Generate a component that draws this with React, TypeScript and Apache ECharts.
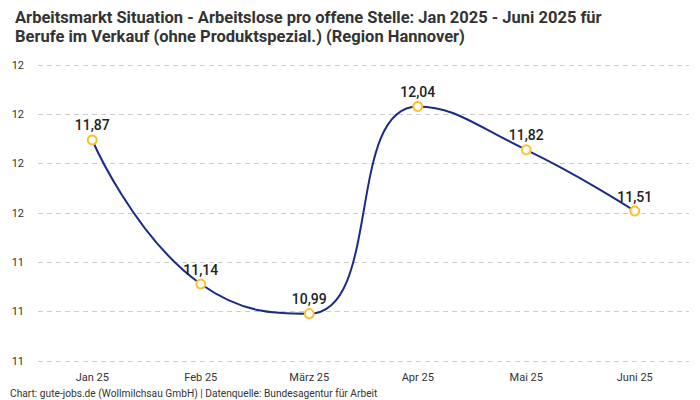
import React, { useEffect, useRef } from "react";
import * as echarts from "echarts";

const categories = ["Jan 25", "Feb 25", "März 25", "Apr 25", "Mai 25", "Juni 25"];
const values = [11.87, 11.14, 10.99, 12.04, 11.82, 11.51];
const titleLines = [
  "Arbeitsmarkt Situation - Arbeitslose pro offene Stelle: Jan 2025 - Juni 2025 für",
  "Berufe im Verkauf (ohne Produktspezial.) (Region Hannover)",
];
const footer = "Chart: gute-jobs.de (Wollmilchsau GmbH) | Datenquelle: Bundesagentur für Arbeit";

export default function App() {
  const ref = useRef<HTMLDivElement>(null);
  useEffect(() => {
    if (!ref.current) return;
    const chart = echarts.init(ref.current, null, { renderer: "svg" });
    chart.setOption({
      animation: false,
      textStyle: { fontFamily: "Roboto" },
      title: {
        text: titleLines.join("\n"),
        left: 10,
        top: 3,
        textStyle: {
          fontFamily: "Roboto",
          fontSize: 16.5,
          fontWeight: "bold",
          color: "#333",
          lineHeight: 19,
        },
      },
      graphic: [
        {
          type: "text",
          left: 10,
          top: 388,
          style: { text: footer, fontSize: 10.2, fill: "#333", fontFamily: "Roboto" },
        },
      ],
      grid: { left: 38, right: 11, top: 65, bottom: 39 },
      xAxis: {
        type: "category",
        data: categories,
        boundaryGap: true,
        axisLine: { show: false },
        axisTick: { show: false },
        axisLabel: { color: "#333", fontSize: 11, margin: 11 },
      },
      yAxis: {
        type: "value",
        min: 10.75,
        max: 12.25,
        interval: 0.25,
        axisLine: { show: false },
        axisTick: { show: false },
        axisLabel: {
          color: "#333",
          fontSize: 11,
          margin: 14,
          formatter: (v: number) => Math.round(v).toString(),
        },
        splitLine: { lineStyle: { color: "#ccc", type: [5, 4] } },
      },
      series: [
        {
          type: "line",
          data: values,
          smooth: true,
          symbol: "circle",
          symbolSize: 9,
          lineStyle: { color: "#1a2a8a", width: 2 },
          itemStyle: { color: "#ffffff", borderColor: "#fbc02d", borderWidth: 2 },
          label: {
            show: true,
            position: "top",
            distance: 2,
            fontSize: 14,
            fontWeight: 500,
            color: "#222",
            formatter: (p: any) => p.value.toFixed(2).replace(".", ","),
          },
        },
      ],
    });
    return () => chart.dispose();
  }, []);
  return <div ref={ref} style={{ width: 700, height: 400, position: "absolute", left: 0, top: 0 }} />;
}
